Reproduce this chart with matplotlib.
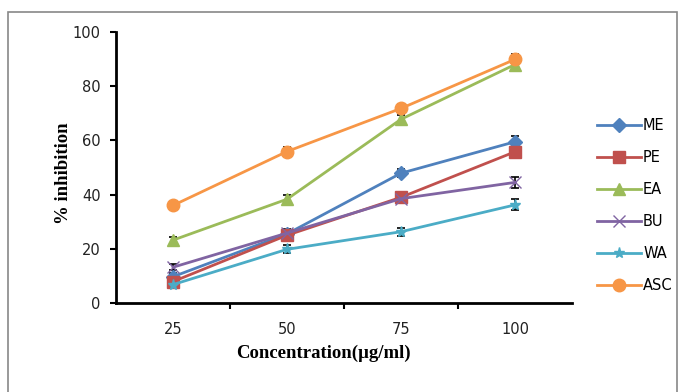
import matplotlib.pyplot as plt
from matplotlib.patches import Rectangle

concentrations = ["25", "50", "75", "100"]
me = [9.7, 25.5, 47.9, 59.5]
pe = [7.9, 25.0, 39.0, 55.8]
ea = [23.2, 38.3, 67.8, 88.0]
bu = [13.2, 25.8, 38.5, 44.5]
wa = [6.8, 19.8, 26.3, 36.2]
asc = [36.0, 55.9, 71.8, 89.9]
err = [1.2, 1.5, 1.5, 2.0]

series = [
    ("ME", me, "#4F81BD", "D", 7),
    ("PE", pe, "#C0504D", "s", 9),
    ("EA", ea, "#9BBB59", "^", 9),
    ("BU", bu, "#8064A2", "x", 8),
    ("WA", wa, "#4BACC6", "*", 8),
    ("ASC", asc, "#F79646", "o", 9),
]


def main():
    fig = plt.figure(figsize=(6.8, 3.92), dpi=100)
    fig.patches.append(Rectangle((8 / 680, -0.05), 669 / 680, 1.05 - 12 / 392,
                                 transform=fig.transFigure, fill=False,
                                 edgecolor="#888888", linewidth=1.2))
    ax = fig.add_axes([116 / 680, 1 - 303 / 392, 456 / 680, 271 / 392])
    x = range(1, len(concentrations) + 1)
    for name, vals, color, marker, ms in series:
        ax.errorbar(x, vals, yerr=err, color=color, ecolor="black",
                    elinewidth=1.2, capsize=3, capthick=1.2,
                    marker=marker, markersize=ms, linewidth=2,
                    markeredgecolor=color, label=name, zorder=3)

    ax.set_xlim(0.5, 4.5)
    ax.set_ylim(0, 100)
    ax.set_yticks([0, 20, 40, 60, 80, 100])
    ax.set_xticks(list(x))
    ax.set_xticklabels(concentrations)
    ax.set_xticks([1.5, 2.5, 3.5], minor=True)
    ax.tick_params(axis="x", which="major", length=0, pad=14,
                   labelsize=10.5, labelcolor="#222222")
    ax.tick_params(axis="x", which="minor", length=4, width=1.5, direction="out")
    ax.tick_params(axis="y", length=4, width=1.5, direction="out",
                   labelsize=10.5, labelcolor="#222222", pad=7)
    for s in ["top", "right"]:
        ax.spines[s].set_visible(False)
    for s in ["left", "bottom"]:
        ax.spines[s].set_linewidth(2)

    ax.set_xlabel("Concentration(µg/ml)", family="Liberation Serif",
                  fontweight="bold", fontsize=13.5)
    ax.xaxis.set_label_coords(0.455, -0.155)
    ax.set_ylabel("% inhibition", family="Liberation Serif",
                  fontweight="bold", fontsize=13.5)
    ax.yaxis.set_label_coords(-0.097, 0.48)

    handles, labels = ax.get_legend_handles_labels()
    handles = [h[0] for h in handles]
    fig.legend(handles, labels, loc="upper left",
               bbox_to_anchor=(584 / 680, 1 - 105 / 392), frameon=False,
               fontsize=10.5, labelspacing=1.17, handlelength=3.0,
               handletextpad=0.15)

    fig.savefig("out.png", dpi=100)


if __name__ == "__main__":
    main()
